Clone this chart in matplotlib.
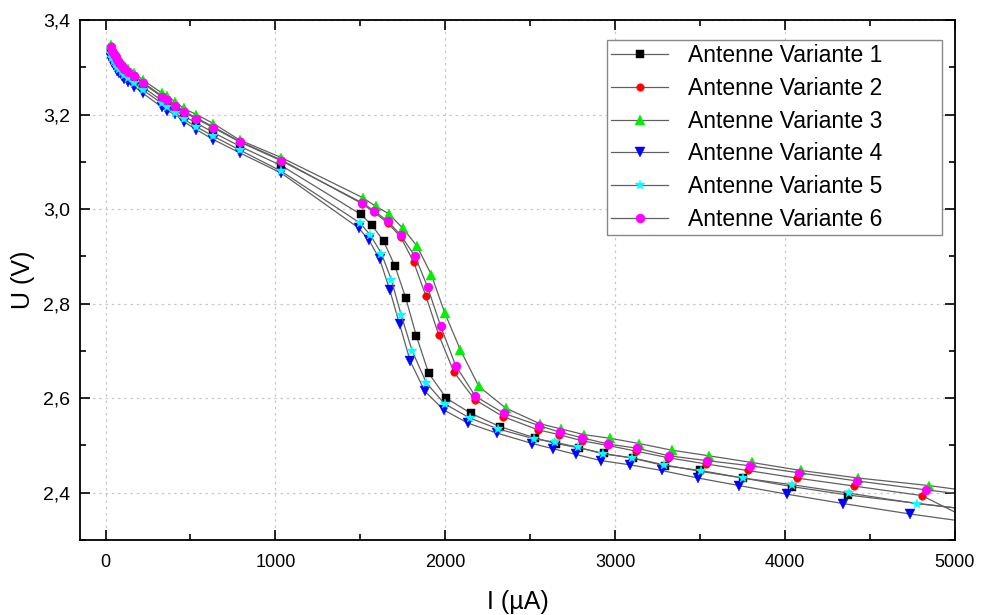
import matplotlib.pyplot as plt
from matplotlib.patches import Rectangle
from matplotlib.ticker import MultipleLocator, FuncFormatter

plt.rcParams["font.family"] = ["Liberation Sans", "DejaVu Sans"]

# shared low-current part of the sweep (µA)
i_early = [30, 40, 50, 60, 70, 80, 95, 110, 130, 170, 220, 330, 360, 410,
           460, 535, 635, 790, 1035]

u_early_1 = [3.334, 3.326, 3.319, 3.313, 3.307, 3.302, 3.295, 3.289, 3.283,
             3.273, 3.258, 3.230, 3.223, 3.211, 3.197, 3.182, 3.162, 3.133,
             3.092]
u_early_2 = [3.344, 3.336, 3.329, 3.323, 3.317, 3.312, 3.305, 3.299, 3.293,
             3.283, 3.268, 3.240, 3.233, 3.221, 3.207, 3.193, 3.174, 3.143,
             3.104]
u_early_3 = [3.348, 3.340, 3.333, 3.327, 3.321, 3.316, 3.309, 3.303, 3.297,
             3.288, 3.273, 3.246, 3.240, 3.227, 3.213, 3.200, 3.181, 3.146,
             3.109]
u_early_4 = [3.320, 3.312, 3.305, 3.299, 3.293, 3.288, 3.281, 3.275, 3.269,
             3.259, 3.245, 3.216, 3.208, 3.201, 3.185, 3.168, 3.147, 3.119,
             3.076]
u_early_5 = [3.328, 3.320, 3.313, 3.307, 3.301, 3.296, 3.289, 3.283, 3.277,
             3.267, 3.252, 3.224, 3.216, 3.204, 3.190, 3.174, 3.154, 3.125,
             3.080]
u_early_6 = [3.342, 3.334, 3.327, 3.321, 3.315, 3.310, 3.303, 3.297, 3.291,
             3.281, 3.266, 3.238, 3.231, 3.219, 3.205, 3.191, 3.172, 3.142,
             3.102]

# knee and tail, per variant
i_late_1 = [1502, 1568, 1637, 1704, 1767, 1830, 1902, 2006, 2150, 2320, 2527,
            2650, 2786, 2935, 3102, 3292, 3502, 3753, 4038, 4372, 5300]
u_late_1 = [2.989, 2.966, 2.932, 2.879, 2.812, 2.731, 2.653, 2.600, 2.568,
            2.540, 2.516, 2.504, 2.495, 2.483, 2.473, 2.457, 2.447, 2.431,
            2.413, 2.395, 2.355]

i_late_2 = [1512, 1582, 1663, 1737, 1814, 1885, 1961, 2051, 2173, 2340, 2546,
            2668, 2802, 2956, 3121, 3312, 3532, 3779, 4068, 4407, 4804, 5200]
u_late_2 = [3.011, 2.993, 2.970, 2.941, 2.888, 2.817, 2.734, 2.655, 2.597,
            2.561, 2.533, 2.523, 2.510, 2.500, 2.488, 2.474, 2.461, 2.447,
            2.431, 2.414, 2.394, 2.323]

i_late_3 = [1515, 1590, 1668, 1751, 1833, 1918, 1996, 2089, 2197, 2356, 2556,
            2680, 2815, 2972, 3141, 3332, 3553, 3803, 4093, 4431, 4849, 5300]
u_late_3 = [3.024, 3.006, 2.990, 2.959, 2.922, 2.861, 2.781, 2.702, 2.625,
            2.579, 2.546, 2.535, 2.523, 2.515, 2.504, 2.490, 2.478, 2.464,
            2.447, 2.431, 2.415, 2.393]

i_late_4 = [1490, 1551, 1614, 1673, 1731, 1794, 1879, 1991, 2134, 2304, 2513,
            2634, 2768, 2915, 3086, 3273, 3488, 3730, 4009, 4342, 4735, 5300]
u_late_4 = [2.960, 2.934, 2.894, 2.829, 2.756, 2.678, 2.615, 2.575, 2.547,
            2.526, 2.504, 2.493, 2.481, 2.468, 2.459, 2.447, 2.431, 2.415,
            2.397, 2.377, 2.355, 2.327]

i_late_5 = [1496, 1559, 1624, 1682, 1741, 1806, 1889, 1996, 2144, 2310, 2521,
            2644, 2782, 2929, 3096, 3288, 3504, 3753, 4038, 4377, 4774, 5300]
u_late_5 = [2.971, 2.945, 2.906, 2.851, 2.775, 2.699, 2.632, 2.588, 2.558,
            2.535, 2.514, 2.507, 2.496, 2.482, 2.474, 2.459, 2.445, 2.431,
            2.417, 2.399, 2.377, 2.356]

i_late_6 = [1512, 1582, 1663, 1737, 1822, 1896, 1973, 2061, 2177, 2344, 2552,
            2674, 2807, 2958, 3129, 3317, 3538, 3793, 4083, 4421, 4829, 5300]
u_late_6 = [3.013, 2.996, 2.974, 2.945, 2.900, 2.835, 2.752, 2.669, 2.604,
            2.568, 2.542, 2.528, 2.516, 2.503, 2.494, 2.478, 2.468, 2.457,
            2.442, 2.425, 2.406, 2.386]

labels = ["Antenne Variante %d" % k for k in range(1, 7)]
series = [
  (u_early_1, i_late_1, u_late_1, "s", "black", 5.5),
  (u_early_2, i_late_2, u_late_2, "o", "red", 5.5),
  (u_early_3, i_late_3, u_late_3, "^", "#00ee00", 6.5),
  (u_early_4, i_late_4, u_late_4, "v", "blue", 6.5),
  (u_early_5, i_late_5, u_late_5, "*", "cyan", 7),
  (u_early_6, i_late_6, u_late_6, "o", "magenta", 6.5),
]

fig = plt.figure(figsize=(9.83, 6.15), dpi=100)
ax = fig.add_axes([0.0814, 0.122, 0.8901, 0.8455])

for label, (u_e, i_l, u_l, marker, color, ms) in zip(labels, series):
  ax.plot(i_early + i_l, u_e + u_l, color="#606060", linewidth=0.9,
          marker=marker, markersize=ms, markerfacecolor=color,
          markeredgecolor=color, markeredgewidth=0.3, label=label)

ax.set_xlim(-150, 5000)
ax.set_ylim(2.3, 3.4)
ax.xaxis.set_major_locator(MultipleLocator(1000))
ax.xaxis.set_minor_locator(MultipleLocator(500))
ax.yaxis.set_major_locator(MultipleLocator(0.2))
ax.yaxis.set_minor_locator(MultipleLocator(0.1))
ax.yaxis.set_major_formatter(
  FuncFormatter(lambda v, _: ("%.1f" % v).replace(".", ",")))
ax.tick_params(which="both", direction="in", top=True, right=True,
               width=1.2)
ax.tick_params(axis="x", labelsize=13, pad=10)
ax.tick_params(axis="y", labelsize=14, pad=7)
ax.tick_params(which="major", length=7)
ax.tick_params(which="minor", length=4)
ax.grid(which="major", linestyle=(0, (2, 3)), color="#c8c8c8", linewidth=0.9)
for spine in ax.spines.values():
  spine.set_linewidth(1.3)

ax.set_xlabel("I (µA)", fontsize=18, labelpad=14)
ax.set_ylabel("U (V)", fontsize=18, labelpad=6)

# legend box is wider than its content in the original, so draw it apart
ax.add_patch(Rectangle((0.602, 0.5865), 0.383, 0.375, transform=ax.transAxes,
                       facecolor="white", edgecolor="#888888", linewidth=1.0,
                       zorder=4.5))
ax.legend(loc="upper left", bbox_to_anchor=(0.607, 0.953), borderaxespad=0,
          borderpad=0, fontsize=16.5, handlelength=2.5, handletextpad=0.85,
          labelspacing=0.42, frameon=False)

fig.savefig("out.png", dpi=100)
